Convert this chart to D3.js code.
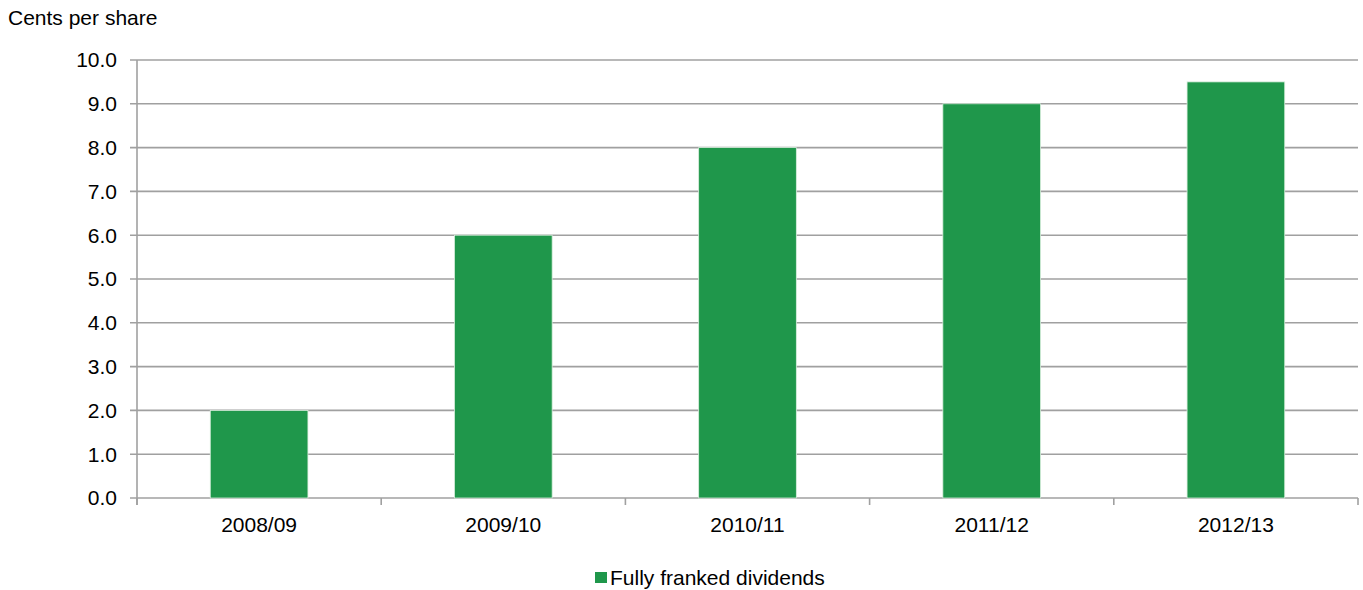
<!DOCTYPE html>
<html>
<head>
<meta charset="utf-8">
<script src="https://cdn.jsdelivr.net/npm/d3@7"></script>
<style>
  body { margin: 0; background: #fff; }
  text { font-family: "Liberation Sans", Arial, sans-serif; fill: #000; }
</style>
</head>
<body>
<script>
const years = ['2008/09', '2009/10', '2010/11', '2011/12', '2012/13']
const dividends = [2.0, 6.0, 8.0, 9.0, 9.5]
const yTicks = [0, 1, 2, 3, 4, 5, 6, 7, 8, 9, 10]
const seriesName = 'Fully franked dividends'

const width = 1363, height = 590
const margin = {top: 60, right: 5, bottom: 92, left: 137}
const barColor = '#1f974b'
const gridColor = '#a0a0a0'
const fontSize = '21px'

const svg = d3.select('body').append('svg')
    .attr('width', width)
    .attr('height', height)

const xScale = d3.scaleBand()
    .domain(years)
    .range([margin.left, width - margin.right])
    .paddingInner(0.6)
    .paddingOuter(0.3)

const yScale = d3.scaleLinear()
    .domain([0, 10])
    .range([height - margin.bottom, margin.top])

// gridlines
svg.append('g')
  .selectAll('line')
  .data(yTicks)
  .enter()
  .append('line')
    .attr('x1', margin.left - 7)
    .attr('x2', width - margin.right)
    .attr('y1', d => yScale(d))
    .attr('y2', d => yScale(d))
    .attr('stroke', gridColor)
    .attr('stroke-width', 1.6)

// y axis line
svg.append('line')
    .attr('x1', margin.left).attr('x2', margin.left)
    .attr('y1', margin.top).attr('y2', height - margin.bottom + 7)
    .attr('stroke', gridColor)
    .attr('stroke-width', 1.6)

// x category boundary ticks
const step = xScale.step()
const bounds = d3.range(years.length + 1).map(i => margin.left + i * step)
svg.append('g')
  .selectAll('line')
  .data(bounds)
  .enter()
  .append('line')
    .attr('x1', d => d).attr('x2', d => d)
    .attr('y1', height - margin.bottom)
    .attr('y2', height - margin.bottom + 7)
    .attr('stroke', gridColor)
    .attr('stroke-width', 1.6)

// y tick labels
svg.append('g')
  .selectAll('text')
  .data(yTicks)
  .enter()
  .append('text')
    .attr('x', 117)
    .attr('y', d => yScale(d))
    .attr('dy', '0.35em')
    .attr('text-anchor', 'end')
    .attr('font-size', fontSize)
    .text(d => d3.format('.1f')(d))

// bars
svg.append('g')
  .selectAll('rect')
  .data(dividends)
  .enter()
  .append('rect')
    .attr('x', (d, i) => xScale(years[i]))
    .attr('y', d => yScale(d))
    .attr('width', xScale.bandwidth())
    .attr('height', d => yScale(0) - yScale(d))
    .attr('fill', barColor)
    .attr('stroke', '#d8eedd')
    .attr('stroke-width', 0.8)

// x labels
svg.append('g')
  .selectAll('text')
  .data(years)
  .enter()
  .append('text')
    .attr('x', d => xScale(d) + xScale.bandwidth() / 2)
    .attr('y', 532)
    .attr('text-anchor', 'middle')
    .attr('font-size', fontSize)
    .text(d => d)

// y axis title
svg.append('text')
    .attr('x', 8)
    .attr('y', 25)
    .attr('font-size', fontSize)
    .text('Cents per share')

// legend
svg.append('rect')
    .attr('x', 595)
    .attr('y', 572)
    .attr('width', 12)
    .attr('height', 11)
    .attr('fill', barColor)
svg.append('text')
    .attr('x', 610)
    .attr('y', 585)
    .attr('font-size', fontSize)
    .text(seriesName)
</script>
</body>
</html>
